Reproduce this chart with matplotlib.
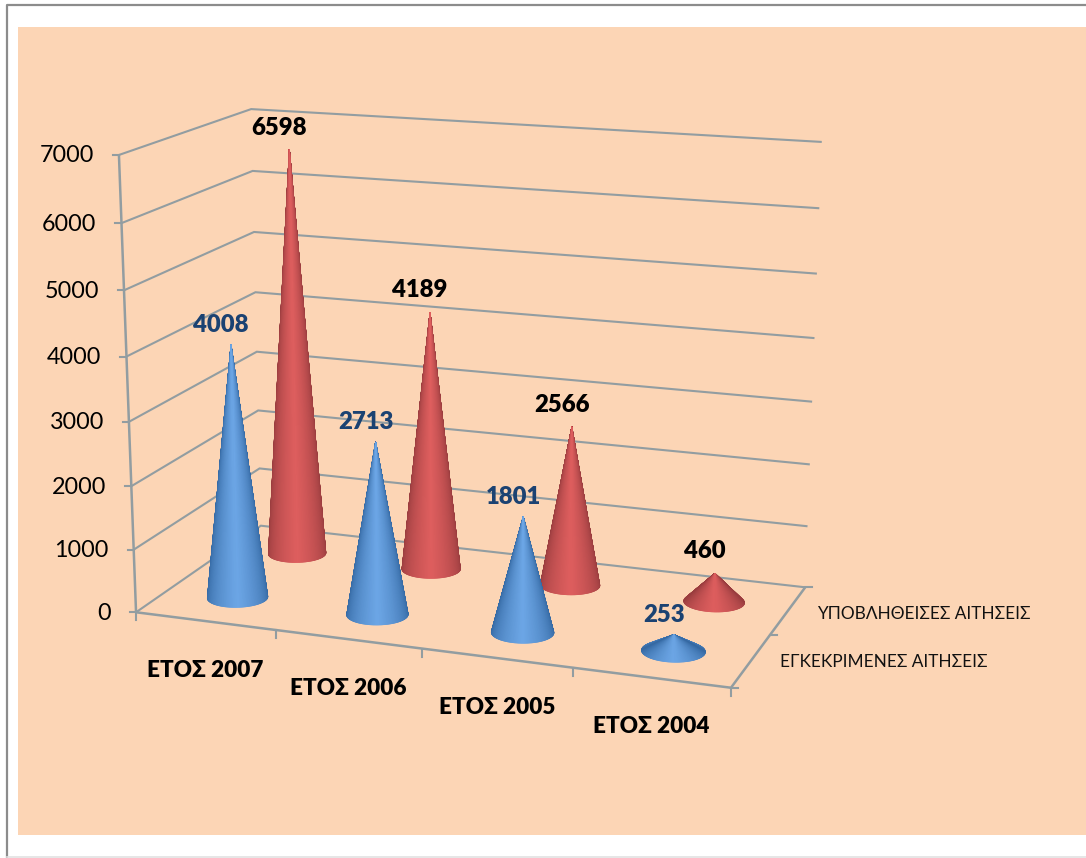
import numpy as np
import matplotlib
matplotlib.use("Agg")
import matplotlib.pyplot as plt
from matplotlib.collections import PolyCollection
from matplotlib.patches import Rectangle

years = ["ΕΤΟΣ 2007", "ΕΤΟΣ 2006", "ΕΤΟΣ 2005", "ΕΤΟΣ 2004"]
series_names = ["ΕΓΚΕΚΡΙΜΕΝΕΣ ΑΙΤΗΣΕΙΣ", "ΥΠΟΒΛΗΘΕΙΣΕΣ ΑΙΤΗΣΕΙΣ"]
approved = [4008, 2713, 1801, 253]
submitted = [6598, 4189, 2566, 460]
y_ticks = [0, 1000, 2000, 3000, 4000, 5000, 6000, 7000]

W, H = 1086, 858
fam = ["Lato", "Noto Sans"]
line_col = "#929da1"

fig = plt.figure(figsize=(W / 100, H / 100), dpi=100, facecolor="white")
ax = fig.add_axes([0, 0, 1, 1])
ax.set_xlim(0, W)
ax.set_ylim(H, 0)
ax.axis("off")

# frame and coloured panel
ax.add_patch(Rectangle((18, 27), W - 18, 808, fc="#fcd5b5", ec="none", zorder=0))
ax.plot([6.5, 6.5, W], [H, 4.5, 4.5], color="#8c8c8c", lw=1.6, zorder=1)
ax.plot([6.5, W], [857, 857], color="#e2e2e2", lw=1.2, zorder=1)

# camera for the 3D box: x = category, y = series depth, z = value
box_xyz = [(0, 0, 0), (4, 0, 0), (4, 2, 0), (0, 2, 0), (0, 0, 7000), (4, 2, 7000), (0, 2, 7000)]
box_px = [(135, 612), (731, 688), (805, 587), (262, 526), (120, 155), (822, 142), (250, 109)]
A = []
b = []
for (x, y, z), (u, v) in zip(box_xyz, box_px):
    z = z / 7000
    A.append([x, y, z, 1, 0, 0, 0, 0, -u * x, -u * y, -u * z])
    A.append([0, 0, 0, 0, x, y, z, 1, -v * x, -v * y, -v * z])
    b += [u, v]
cam = np.linalg.lstsq(np.array(A, float), np.array(b, float), rcond=None)[0]
cam = np.append(cam, 1).reshape(3, 4)


def project(x, y, z):
    p = cam @ np.array([x, y, z / 7000, 1.0])
    return p[0] / p[2], p[1] / p[2]


def line3d(pts, lw=1.5):
    xy = [project(*p) for p in pts]
    ax.plot([q[0] for q in xy], [q[1] for q in xy], color=line_col, lw=lw, zorder=2,
            solid_joinstyle="miter", solid_capstyle="butt")


# walls, floor and ticks
for t in y_ticks:
    line3d([(0, 0, t), (0, 2, t), (4, 2, t)])
    tx, ty = project(0, 0, t)
    ax.plot([tx - 6, tx], [ty, ty], color=line_col, lw=1.5, zorder=2)
    ax.text(tx - 25, ty + 1, str(t), ha="right", va="center", fontsize=16.8, family=fam, color="black")
line3d([(0, 0, 0), (0, 0, 7000)], lw=1.8)
line3d([(0, 0, 0), (4, 0, 0), (4, 2, 0)], lw=1.8)
for i in range(5):
    tx, ty = project(i, 0, 0)
    ax.plot([tx, tx], [ty, ty + 8], color=line_col, lw=1.5, zorder=2)
for s in range(3):
    tx, ty = project(4, s, 0)
    ax.plot([tx, tx + 7], [ty, ty], color=line_col, lw=1.5, zorder=2)


def mix(c1, c2, t):
    return tuple(np.array(matplotlib.colors.to_rgb(c1)) * (1 - t) + np.array(matplotlib.colors.to_rgb(c2)) * t)


def cone(i, s, val, edge, mid):
    # fan of triangles from the tip down to the base circle, shaded by angle
    cx, cy = i + 0.5, s + 0.5
    tip = project(cx, cy, val)
    ang = np.linspace(0, 2 * np.pi, 241)
    base = [project(cx + 0.2 * np.cos(a), cy + 0.2 * np.sin(a), 0) for a in ang]
    xs = [q[0] for q in base]
    centre = (min(xs) + max(xs)) / 2
    half = (max(xs) - min(xs)) / 2
    tris = []
    for k in range(len(base) - 1):
        p = ((base[k][0] + base[k + 1][0]) / 2 - centre) / half
        c = mix(edge, mid, max(0, 1 - abs(p)) ** 0.5)
        tris.append((base[k][1] + base[k + 1][1], [tip, base[k], base[k + 1]], c))
    tris.sort(key=lambda q: q[0])
    pc = PolyCollection([q[1] for q in tris], facecolors=[q[2] for q in tris],
                        edgecolors=[q[2] for q in tris], linewidths=0.6, zorder=3)
    ax.add_collection(pc)
    return tip


for s, vals, edge, mid, lab_col, up in [(1, submitted, "#983c3e", "#de5e5e", "black", 22),
                                        (0, approved, "#3468a2", "#6ca6e6", "#1b4272", 20)]:
    for i, v in enumerate(vals):
        tip = cone(i, s, v, edge, mid)
        ax.text(tip[0] - 10, tip[1] - up, str(v), ha="center", va="center", fontsize=17.2,
                fontweight="heavy", family=fam, color=lab_col, zorder=5)

# category and series names
for i, name in enumerate(years):
    tx, ty = project(i + 0.5, 0, 0)
    ax.text(tx, ty + 49, name, ha="center", va="center", fontsize=16.2, fontweight="heavy", family=fam, color="black")
for s, name in enumerate(series_names):
    tx, ty = project(4, s + 0.5, 0)
    ax.text(tx + 29, ty + 1 + 3 * s, name, ha="left", va="center", fontsize=12.4, family=fam, color="#111111")

fig.savefig("out.png", dpi=100)
